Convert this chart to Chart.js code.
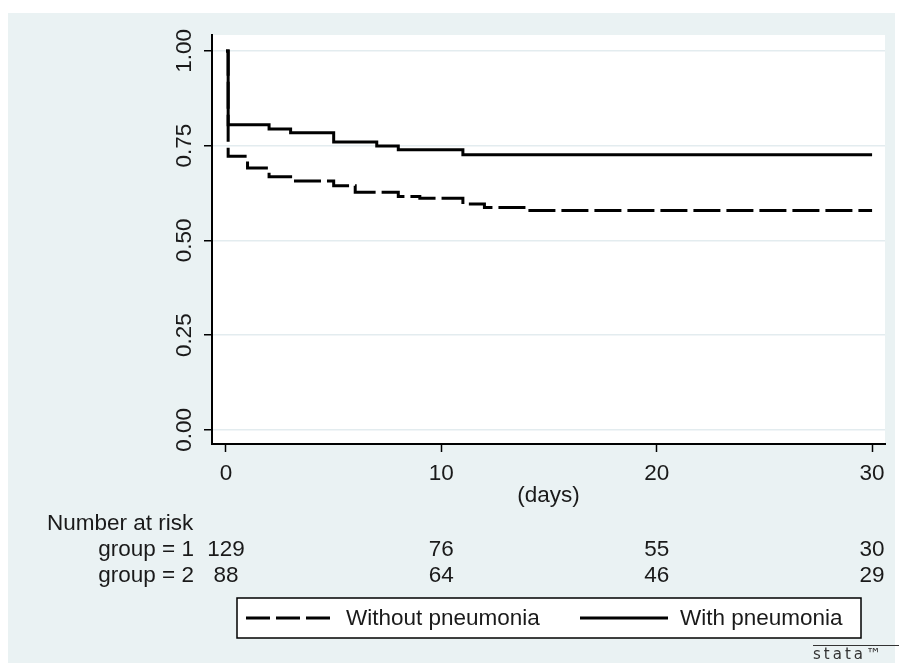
<!DOCTYPE html>
<html>
<head>
<meta charset="utf-8">
<script src="https://cdn.jsdelivr.net/npm/chart.js@4.4.1/dist/chart.umd.min.js"></script>
<style>
  html, body { margin: 0; padding: 0; background: #ffffff; }
  #wrap { position: relative; width: 899px; height: 663px; }
  canvas { display: block; }
</style>
</head>
<body>
<div id="wrap"><canvas id="c" width="899" height="663"></canvas></div>
<script>
// ---- Data ----
const withTimes    = [0, 0.1, 2, 3, 5, 7, 8, 11, 30];
const withSurv     = [1.00, 0.805, 0.794, 0.784, 0.760, 0.749, 0.739, 0.726, 0.726];
const withoutTimes = [0, 0.1, 1, 2, 3, 5, 6, 8, 9, 11, 12, 14, 30];
const withoutSurv  = [1.00, 0.722, 0.691, 0.668, 0.657, 0.644, 0.627, 0.616, 0.611, 0.596, 0.587, 0.579, 0.579];

const xTicks = [0, 10, 20, 30];
const yTicks = [0, 0.25, 0.50, 0.75, 1.00];
const yTickLabels = ['0.00', '0.25', '0.50', '0.75', '1.00'];

const riskTimes  = [0, 10, 20, 30];
const riskGroups = ['group = 1', 'group = 2'];
const riskGroup1 = [129, 76, 55, 30];
const riskGroup2 = [88, 64, 46, 29];

const seriesLabels = ['Without pneumonia', 'With pneumonia'];
const xTitle = '(days)';

const FONT = '"Liberation Sans", Arial, Helvetica, sans-serif';
const FS = 22.5;
const BG = '#EAF2F3';

function pts(xs, ys) { return xs.map((x, i) => ({ x: x, y: ys[i] })); }

const framePlugin = {
  id: 'frame',
  beforeDraw(chart) {
    const ctx = chart.ctx, a = chart.chartArea;
    ctx.save();
    ctx.fillStyle = '#ffffff';
    ctx.fillRect(0, 0, chart.width, chart.height);
    ctx.fillStyle = BG;
    ctx.fillRect(8, 13, 887, 650);
    ctx.fillStyle = '#ffffff';
    ctx.fillRect(a.left, a.top, a.right - a.left, a.bottom - a.top);
    ctx.restore();
  },
  afterDraw(chart) {
    const ctx = chart.ctx, a = chart.chartArea;
    const xs = chart.scales.x, ys = chart.scales.y;
    ctx.save();
    ctx.fillStyle = '#1a1a1a';
    ctx.font = FS + 'px ' + FONT;
    // rotated y tick labels
    yTicks.forEach((v, i) => {
      const py = ys.getPixelForValue(v);
      ctx.save();
      ctx.translate(185, py);
      ctx.rotate(-Math.PI / 2);
      ctx.textAlign = 'center';
      ctx.textBaseline = 'middle';
      ctx.fillText(yTickLabels[i], 0, 0);
      ctx.restore();
    });
    // x axis title
    ctx.textAlign = 'center';
    ctx.textBaseline = 'middle';
    ctx.fillText(xTitle, (a.left + a.right) / 2, 496);
    // Number at risk table
    ctx.textAlign = 'left';
    ctx.fillText('Number at risk', 47, 524);
    ctx.textAlign = 'right';
    ctx.fillText(riskGroups[0], 194, 550);
    ctx.fillText(riskGroups[1], 194, 576);
    ctx.textAlign = 'center';
    riskTimes.forEach((t, i) => {
      const px = xs.getPixelForValue(t);
      ctx.fillText(String(riskGroup1[i]), px, 550);
      ctx.fillText(String(riskGroup2[i]), px, 576);
    });
    // Legend box
    ctx.fillStyle = '#ffffff';
    ctx.fillRect(237, 598, 624, 40);
    ctx.strokeStyle = '#000000';
    ctx.lineWidth = 1.5;
    ctx.strokeRect(237, 598, 624, 40);
    ctx.lineWidth = 3;
    ctx.setLineDash([24, 6]);
    ctx.beginPath(); ctx.moveTo(246, 618); ctx.lineTo(332, 618); ctx.stroke();
    ctx.setLineDash([]);
    ctx.beginPath(); ctx.moveTo(580, 618); ctx.lineTo(668, 618); ctx.stroke();
    ctx.fillStyle = '#1a1a1a';
    ctx.textAlign = 'left';
    ctx.fillText(seriesLabels[0], 346, 619);
    ctx.fillText(seriesLabels[1], 680, 619);
    // stata logo
    ctx.strokeStyle = '#333333';
    ctx.lineWidth = 1;
    ctx.beginPath(); ctx.moveTo(813, 645.5); ctx.lineTo(899, 645.5); ctx.stroke();
    ctx.fillStyle = '#333333';
    ctx.font = '15px "DejaVu Sans", sans-serif';
    ctx.letterSpacing = '3px';
    ctx.textBaseline = 'alphabetic';
    ctx.fillText('stata\u2122', 813, 659);
    ctx.restore();
  }
};

new Chart(document.getElementById('c'), {
  type: 'line',
  data: {
    datasets: [
      {
        label: seriesLabels[0],
        data: pts(withoutTimes, withoutSurv),
        borderColor: '#000000',
        borderWidth: 3,
        borderDash: [27, 6],
        borderCapStyle: 'butt',
        pointRadius: 0,
        stepped: 'before',
        fill: false
      },
      {
        label: seriesLabels[1],
        data: pts(withTimes, withSurv),
        borderColor: '#000000',
        borderWidth: 3,
        pointRadius: 0,
        stepped: 'before',
        fill: false
      }
    ]
  },
  options: {
    responsive: false,
    animation: false,
    devicePixelRatio: 1,
    layout: { padding: { top: 35, right: 14, left: 0, bottom: 0 } },
    plugins: { legend: { display: false }, tooltip: { enabled: false } },
    scales: {
      x: {
        type: 'linear',
        min: -0.65,
        max: 30.6,
        afterBuildTicks: s => { s.ticks = xTicks.map(v => ({ value: v })); },
        afterFit: s => { s.height = 219; },
        grid: { drawOnChartArea: false, tickColor: '#000000', tickLength: 8, tickWidth: 1.5 },
        border: { display: true, color: '#000000', width: 2 },
        ticks: { color: '#1a1a1a', font: { family: FONT, size: FS }, padding: 8, maxRotation: 0, minRotation: 0 }
      },
      y: {
        type: 'linear',
        min: -0.037,
        max: 1.042,
        afterBuildTicks: s => { s.ticks = yTicks.map(v => ({ value: v })); },
        afterFit: s => { s.width = 212; },
        grid: { color: '#E3ECEF', lineWidth: 1.5, tickColor: '#000000', tickLength: 8, tickWidth: 1.5 },
        border: { display: true, color: '#000000', width: 2 },
        ticks: { display: false }
      }
    }
  },
  plugins: [framePlugin]
});
</script>
</body>
</html>
